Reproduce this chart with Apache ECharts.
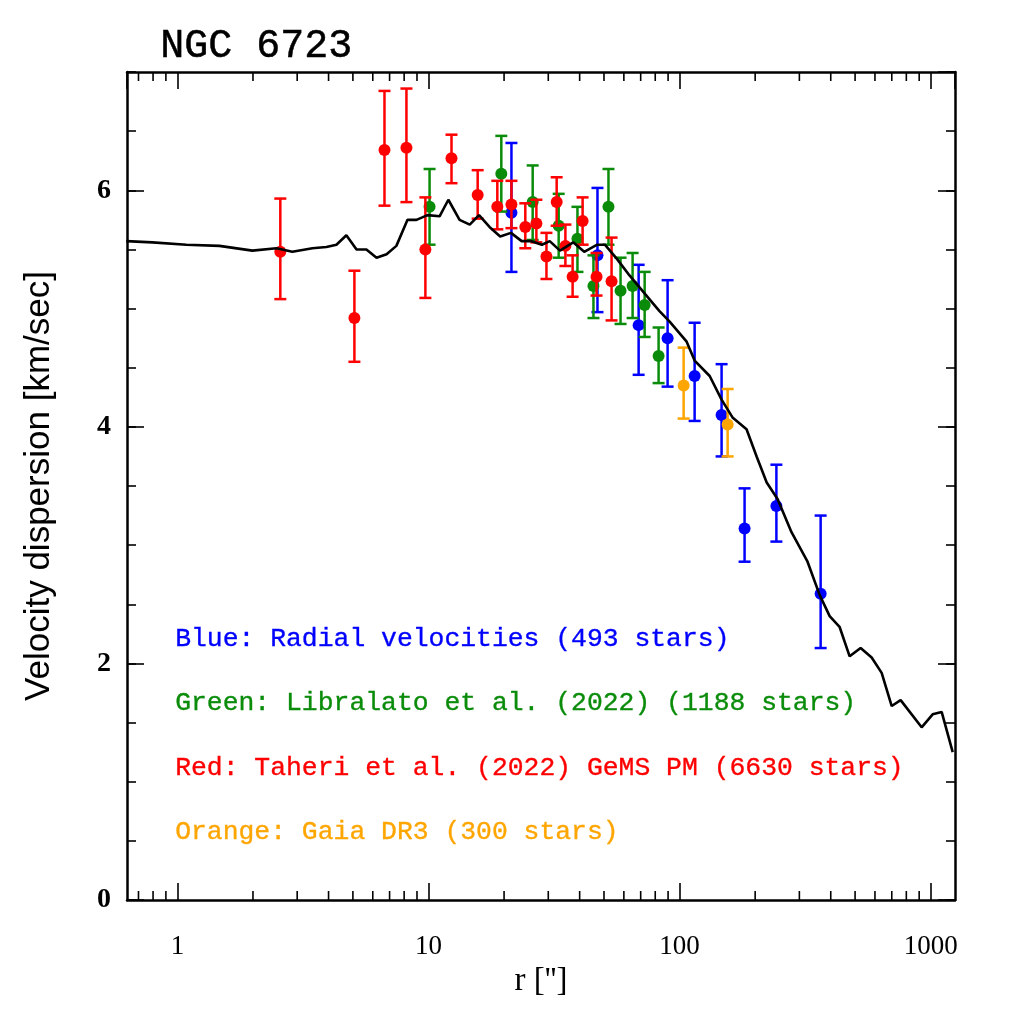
<!DOCTYPE html>
<html>
<head>
<meta charset="utf-8">
<script src="https://cdn.jsdelivr.net/npm/echarts@6/dist/echarts.min.js"></script>
<style>
html,body{margin:0;padding:0;background:#fff;}
#c{width:1024px;height:1024px;}
</style>
</head>
<body>
<div id="c"></div>
<script>
// ---- data ----
const blueR  = [21.4, 47.1, 68.7, 89.6, 114.8, 147, 181.5, 243, 364.6];
const blueV  = [5.81, 5.45, 4.86, 4.75, 4.43, 4.10, 3.14, 3.33, 2.59];
const blueHi = [6.40, 6.02, 5.37, 5.24, 4.88, 4.53, 3.48, 3.68, 3.25];
const blueLo = [5.31, 4.97, 4.44, 4.34, 4.05, 3.75, 2.86, 3.03, 2.13];

const greenR  = [10.1, 19.5, 26.0, 33.0, 39.2, 45.4, 52.1, 58.2, 65.0, 72.6, 82.5];
const greenV  = [5.86, 6.14, 5.90, 5.70, 5.59, 5.19, 5.86, 5.15, 5.19, 5.03, 4.60];
const greenHi = [6.18, 6.46, 6.21, 5.97, 5.86, 5.45, 6.18, 5.43, 5.47, 5.31, 4.84];
const greenLo = [5.54, 5.82, 5.58, 5.43, 5.31, 4.92, 5.54, 4.87, 4.92, 4.76, 4.37];

const redR  = [2.57, 5.07, 6.68, 8.17, 9.72, 12.35, 15.7, 18.8, 21.4, 24.3, 26.9, 29.5, 32.4, 35.1, 37.5, 41.1, 46.7, 53.6];
const redV  = [5.48, 4.92, 6.34, 6.36, 5.50, 6.27, 5.96, 5.86, 5.88, 5.69, 5.72, 5.44, 5.90, 5.53, 5.27, 5.74, 5.27, 5.23];
const redHi = [5.93, 5.32, 6.84, 6.86, 5.94, 6.47, 6.17, 6.08, 6.08, 5.89, 5.92, 5.64, 6.11, 5.71, 5.45, 5.94, 5.47, 5.60];
const redLo = [5.08, 4.55, 5.87, 5.90, 5.09, 6.06, 5.76, 5.67, 5.68, 5.51, 5.56, 5.25, 5.70, 5.36, 5.10, 5.54, 5.11, 4.90];

const orangeR  = [103.8, 155.4];
const orangeV  = [4.35, 4.02];
const orangeHi = [4.67, 4.32];
const orangeLo = [4.07, 3.75];

const modelR = [0.626, 0.795, 1.086, 1.47, 1.99, 2.48, 2.87, 3.45, 3.92, 4.30, 4.71, 5.17, 5.66, 6.21, 6.81, 7.45, 8.25, 8.96, 9.91, 11.07, 12.0, 13.3, 14.6, 15.9, 17.5, 19.3, 21.3, 23.5, 25.7, 28.3, 30.4, 33.4, 37.7, 41.7, 47.0, 50.4, 56.3, 63.2, 73.8, 83.0, 91.3, 106.7, 114.8, 131.8, 147, 162.5, 184.8, 202.7, 222.3, 245.6, 279.1, 323.3, 361.2, 396.0, 433.6, 475.7, 526.0, 582.0, 638.0, 699.6, 759.2, 920.6, 1018.5, 1106, 1224];
const modelV = [5.57, 5.56, 5.54, 5.53, 5.49, 5.51, 5.48, 5.51, 5.52, 5.54, 5.62, 5.50, 5.50, 5.43, 5.46, 5.53, 5.75, 5.75, 5.79, 5.78, 5.92, 5.75, 5.71, 5.79, 5.69, 5.61, 5.64, 5.57, 5.57, 5.54, 5.57, 5.49, 5.56, 5.48, 5.54, 5.54, 5.42, 5.28, 5.11, 4.98, 4.89, 4.72, 4.56, 4.43, 4.23, 4.08, 3.98, 3.75, 3.53, 3.39, 3.11, 2.86, 2.58, 2.40, 2.31, 2.06, 2.13, 2.05, 1.92, 1.64, 1.69, 1.46, 1.57, 1.59, 1.25];

const xMin = 0.63, xMax = 1250;
const yMin = 0, yMax = 7;
const yMajorStep = 2, yMinorStep = 0.5;
const xMinorTicks = [0.7, 0.8, 0.9, 2, 3, 4, 5, 6, 7, 8, 9, 20, 30, 40, 50, 60, 70, 80, 90, 200, 300, 400, 500, 600, 700, 800, 900];

const title = 'NGC 6723';
const legendLines = [
  {text: 'Blue: Radial velocities (493 stars)', color: '#0000ff'},
  {text: 'Green: Libralato et al. (2022) (1188 stars)', color: '#0a8c0a'},
  {text: 'Red: Taheri et al. (2022) GeMS PM (6630 stars)', color: '#ff0000'},
  {text: 'Orange: Gaia DR3 (300 stars)', color: '#ffa500'}
];
const xName = "r ['']";
const yName = 'Velocity dispersion [km/sec]';

// ---- build ----
const COL = {blue: '#0000ff', green: '#0a8c0a', red: '#ff0000', orange: '#ffa500'};
const zip2 = (a, b) => a.map((v, i) => [v, b[i]]);
const zip3 = (a, b, c) => a.map((v, i) => [v, b[i], c[i]]);

function errSeries(r, lo, hi, color, z) {
  return {
    type: 'custom', xAxisIndex: 0, yAxisIndex: 0, z: z, silent: true,
    encode: {x: 0, y: [1, 2]},
    data: zip3(r, lo, hi),
    renderItem: function (params, api) {
      const x = api.value(0);
      const pLo = api.coord([x, api.value(1)]);
      const pHi = api.coord([x, api.value(2)]);
      const w = 6;
      const style = {stroke: color, lineWidth: 2.5, fill: null};
      return {type: 'group', children: [
        {type: 'line', shape: {x1: pLo[0], y1: pLo[1], x2: pHi[0], y2: pHi[1]}, style: style},
        {type: 'line', shape: {x1: pLo[0] - w, y1: pLo[1], x2: pLo[0] + w, y2: pLo[1]}, style: style},
        {type: 'line', shape: {x1: pHi[0] - w, y1: pHi[1], x2: pHi[0] + w, y2: pHi[1]}, style: style}
      ]};
    }
  };
}
function ptSeries(r, v, color, z) {
  return {
    type: 'scatter', xAxisIndex: 0, yAxisIndex: 0, z: z, silent: true,
    symbol: 'circle', symbolSize: 12,
    itemStyle: {color: color, opacity: 1},
    data: zip2(r, v)
  };
}

const serif = '"Liberation Serif", "DejaVu Serif", serif';
const mono = '"Liberation Mono", "DejaVu Sans Mono", monospace';
const sans = '"Liberation Sans", "DejaVu Sans", sans-serif';

const xAxisBase = {
  type: 'log', logBase: 10, min: xMin, max: xMax, gridIndex: 0,
  axisLine: {show: true, onZero: false, lineStyle: {color: '#000', width: 2.5}},
  axisTick: {show: true, inside: true, length: 17, lineStyle: {color: '#000', width: 1.6}},
  splitLine: {show: false},
  minorTick: {show: false}
};
const yAxisBase = {
  type: 'value', min: yMin, max: yMax, gridIndex: 0,
  axisLine: {show: true, onZero: false, lineStyle: {color: '#000', width: 2.5}},
  splitLine: {show: false}
};

const chart = echarts.init(document.getElementById('c'), null, {renderer: 'canvas'});
chart.setOption({
  backgroundColor: '#ffffff',
  animation: false,
  grid: {left: 127, right: 69, top: 72, bottom: 124, containLabel: false},
  xAxis: [
    Object.assign({}, xAxisBase, {
      position: 'bottom',
      name: xName, nameLocation: 'middle', nameGap: 50,
      nameTextStyle: {fontFamily: serif, fontSize: 33, color: '#000'},
      axisLabel: {show: true, margin: 33, fontFamily: serif, fontSize: 27, color: '#000',
        showMinLabel: false, showMaxLabel: false,
        formatter: function (v) { return String(Math.round(v)); }}
    }),
    Object.assign({}, xAxisBase, {position: 'top', axisLabel: {show: false}})
  ],
  yAxis: [
    Object.assign({}, yAxisBase, {
      position: 'left', interval: yMajorStep,
      name: yName, nameLocation: 'middle', nameGap: 70, nameRotate: 90,
      nameTextStyle: {fontFamily: sans, fontSize: 35, color: '#000'},
      axisTick: {show: true, inside: true, length: 17, lineStyle: {color: '#000', width: 1.6}},
      axisLabel: {show: true, margin: 16, fontFamily: serif, fontSize: 28, fontWeight: 'bold', color: '#000',
        showMaxLabel: false}
    }),
    Object.assign({}, yAxisBase, {
      position: 'right', interval: yMajorStep,
      axisTick: {show: true, inside: true, length: 17, lineStyle: {color: '#000', width: 1.6}},
      axisLabel: {show: false}
    }),
    Object.assign({}, yAxisBase, {
      position: 'left', interval: yMinorStep,
      axisLine: {show: false},
      axisTick: {show: true, inside: true, length: 9, lineStyle: {color: '#000', width: 1.6}},
      axisLabel: {show: false}
    }),
    Object.assign({}, yAxisBase, {
      position: 'right', interval: yMinorStep,
      axisLine: {show: false},
      axisTick: {show: true, inside: true, length: 9, lineStyle: {color: '#000', width: 1.6}},
      axisLabel: {show: false}
    })
  ],
  series: [
    {
      type: 'custom', xAxisIndex: 0, yAxisIndex: 0, z: 1, silent: true,
      encode: {x: 0},
      data: xMinorTicks.map(v => [v]),
      renderItem: function (params, api) {
        const v = api.value(0);
        const b = api.coord([v, yMin]);
        const t = api.coord([v, yMax]);
        const style = {stroke: '#000', lineWidth: 1.6};
        return {type: 'group', children: [
          {type: 'line', shape: {x1: b[0], y1: b[1], x2: b[0], y2: b[1] - 9}, style: style},
          {type: 'line', shape: {x1: t[0], y1: t[1], x2: t[0], y2: t[1] + 9}, style: style}
        ]};
      }
    },
    errSeries(blueR, blueLo, blueHi, COL.blue, 2), ptSeries(blueR, blueV, COL.blue, 3),
    errSeries(greenR, greenLo, greenHi, COL.green, 4), ptSeries(greenR, greenV, COL.green, 5),
    errSeries(redR, redLo, redHi, COL.red, 6), ptSeries(redR, redV, COL.red, 7),
    errSeries(orangeR, orangeLo, orangeHi, COL.orange, 8), ptSeries(orangeR, orangeV, COL.orange, 9),
    {
      type: 'line', xAxisIndex: 0, yAxisIndex: 0, z: 10, silent: true,
      showSymbol: false, symbol: 'none', smooth: false,
      lineStyle: {color: '#000', width: 2.6},
      data: zip2(modelR, modelV)
    }
  ],
  graphic: [
    {type: 'text', left: 160, top: 26, z: 100,
      style: {text: title, fontFamily: mono, fontSize: 40, fill: '#000', stroke: '#000', lineWidth: 0.5}}
  ].concat(legendLines.map((l, i) => ({
    type: 'text', left: 175, top: 626 + i * 64.3, z: 100,
    style: {text: l.text, fontFamily: mono, fontSize: 26.4, fill: l.color, stroke: l.color, lineWidth: 0.35}
  })))
});
</script>
</body>
</html>
